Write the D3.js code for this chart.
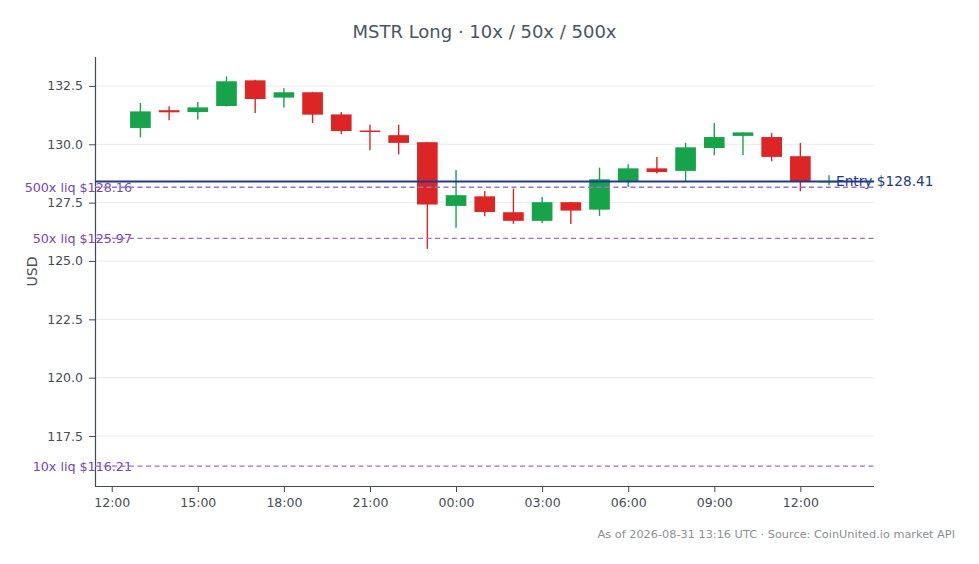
<!DOCTYPE html>
<html><head><meta charset="utf-8">
<script src="https://cdn.jsdelivr.net/npm/d3@7"></script>
<style>
html,body{margin:0;padding:0;background:#fff;}
svg{display:block;font-family:"DejaVu Sans",sans-serif;}
</style></head>
<body><svg id="chart" width="979" height="564"></svg>
<script>
// ---- data ----
const times = ["2026-08-30T13:00Z","2026-08-30T14:00Z","2026-08-30T15:00Z","2026-08-30T16:00Z","2026-08-30T17:00Z","2026-08-30T18:00Z","2026-08-30T19:00Z","2026-08-30T20:00Z","2026-08-30T21:00Z","2026-08-30T22:00Z","2026-08-30T23:00Z","2026-08-31T00:00Z","2026-08-31T01:00Z","2026-08-31T02:00Z","2026-08-31T03:00Z","2026-08-31T04:00Z","2026-08-31T05:00Z","2026-08-31T06:00Z","2026-08-31T07:00Z","2026-08-31T08:00Z","2026-08-31T09:00Z","2026-08-31T10:00Z","2026-08-31T11:00Z","2026-08-31T12:00Z","2026-08-31T13:00Z"];
const opens  = [130.70,131.46,131.38,131.64,132.74,132.00,132.23,131.28,130.59,130.39,130.09,127.36,127.77,127.09,126.72,127.52,127.20,128.43,128.97,128.86,129.84,130.36,130.31,129.49,128.40];
const highs  = [131.77,131.63,131.81,132.91,132.76,132.40,132.25,131.38,130.84,130.84,130.10,128.90,128.00,128.10,127.74,127.53,129.00,129.14,129.46,130.06,130.91,130.52,130.48,130.06,128.67];
const lows   = [130.30,131.03,131.06,131.62,131.34,131.58,130.91,130.43,129.74,129.57,125.52,126.42,126.92,126.59,126.62,126.59,126.93,128.17,128.75,128.39,129.53,129.54,129.27,127.99,128.24];
const closes = [131.41,131.37,131.58,132.70,131.94,132.23,131.27,130.57,130.55,130.06,127.42,127.82,127.10,126.72,127.52,127.16,128.50,128.97,128.81,129.87,130.31,130.51,129.46,128.39,128.43];
const entryPrice = 128.41;
const liqLabels = ["500x liq","50x liq","10x liq"];
const liqPrices = [128.16,125.97,116.21];
const yTicks = [117.5,120.0,122.5,125.0,127.5,130.0,132.5];
const xDomain = ["2026-08-30T11:25Z","2026-08-31T14:34Z"];
const yDomain = [115.36,133.74];
const title = "MSTR Long · 10x / 50x / 500x";
const footer = "As of 2026-08-31 13:16 UTC · Source: CoinUnited.io market API";

// ---- layout ----
const W = 979, H = 564;
const m = {top:57, right:105, bottom:78, left:95};
const svg = d3.select("#chart");
const x = d3.scaleUtc().domain(xDomain.map(d=>new Date(d))).range([m.left, W-m.right]);
const y = d3.scaleLinear().domain(yDomain).range([H-m.bottom, m.top]);
const GREEN = "#16a34a", RED = "#dc2626";
const axisColor = "#3f4a57", textColor = "#444c55";

// grid
svg.append("g").selectAll("line").data(yTicks).join("line")
  .attr("x1", m.left).attr("x2", W-m.right)
  .attr("y1", d=>y(d)).attr("y2", d=>y(d))
  .attr("stroke", "#ebebeb").attr("stroke-width", 1);

// candles
const data = times.map((t,i)=>({t:new Date(t), o:opens[i], h:highs[i], l:lows[i], c:closes[i]}));
const step = x(new Date(times[1])) - x(new Date(times[0]));
const bw = step*0.72;
const cg = svg.append("g");
cg.selectAll("line").data(data).join("line")
  .attr("x1", d=>x(d.t)).attr("x2", d=>x(d.t))
  .attr("y1", d=>y(d.h)).attr("y2", d=>y(d.l))
  .attr("stroke", d=>d.c>=d.o?GREEN:RED).attr("stroke-width", 1.4);
cg.selectAll("rect").data(data).join("rect")
  .attr("x", d=>x(d.t)-bw/2).attr("width", bw)
  .attr("y", d=>y(Math.max(d.o,d.c)))
  .attr("height", d=>Math.max(1.5, Math.abs(y(d.o)-y(d.c))))
  .attr("fill", d=>d.c>=d.o?GREEN:RED);

// liq labels (under lines)
const lg = svg.append("g");
lg.selectAll("text").data(liqPrices).join("text")
  .attr("x", m.left+37).attr("y", d=>y(d)).attr("dy","0.35em")
  .attr("text-anchor","end").attr("font-size", 12.7).attr("fill", "#7444c0")
  .text((d,i)=>`${liqLabels[i]} $${d.toFixed(2)}`);
// entry label
svg.append("text").attr("x", x(new Date(times[times.length-1]))+7).attr("y", y(entryPrice)).attr("dy","0.35em")
  .attr("font-size", 13.7).attr("fill", "#1e3a8a").text(`Entry $${entryPrice.toFixed(2)}`);

// axes
const yAxis = svg.append("g").attr("transform", `translate(${m.left},0)`)
  .call(d3.axisLeft(y).tickValues(yTicks).tickFormat(d3.format(".1f")).tickSize(6).tickPadding(6));
const xAxis = svg.append("g").attr("transform", `translate(0,${H-m.bottom})`)
  .call(d3.axisBottom(x).ticks(d3.utcHour.every(3)).tickFormat(d3.utcFormat("%H:%M")).tickSize(6).tickPadding(6));
[yAxis,xAxis].forEach(a=>{
  a.select(".domain").attr("stroke", axisColor).attr("stroke-width", 1.2);
  a.selectAll(".tick line").attr("stroke", axisColor);
  a.selectAll(".tick text").attr("fill", textColor).attr("font-size", 12.5).attr("font-family","DejaVu Sans");
});
yAxis.select(".domain").attr("d", `M0.5,${m.top}V${H-m.bottom}`);
xAxis.select(".domain").attr("d", `M${m.left},0.5H${W-m.right}`);

// liq lines
svg.append("g").selectAll("line").data(liqPrices).join("line")
  .attr("x1", m.left).attr("x2", W-m.right)
  .attr("y1", d=>y(d)).attr("y2", d=>y(d))
  .attr("stroke", "#9a6fd6").attr("stroke-width", 1.3).attr("stroke-dasharray","5,3.5");
// entry line
svg.append("line").attr("x1", m.left).attr("x2", W-m.right)
  .attr("y1", y(entryPrice)).attr("y2", y(entryPrice))
  .attr("stroke", "#1e3a8a").attr("stroke-width", 2);

// titles
svg.append("text").attr("x", (m.left+W-m.right)/2).attr("y", 38).attr("text-anchor","middle")
  .attr("font-size", 18).attr("fill", "#4a5563").text(title);
svg.append("text").attr("transform", `translate(37,${(m.top+H-m.bottom)/2}) rotate(-90)`)
  .attr("text-anchor","middle").attr("font-size", 14).attr("fill", textColor).text("USD");
svg.append("text").attr("x", 955).attr("y", 538).attr("text-anchor","end")
  .attr("font-size", 11.3).attr("fill", "#8a8f96").text(footer);
</script></body></html>
